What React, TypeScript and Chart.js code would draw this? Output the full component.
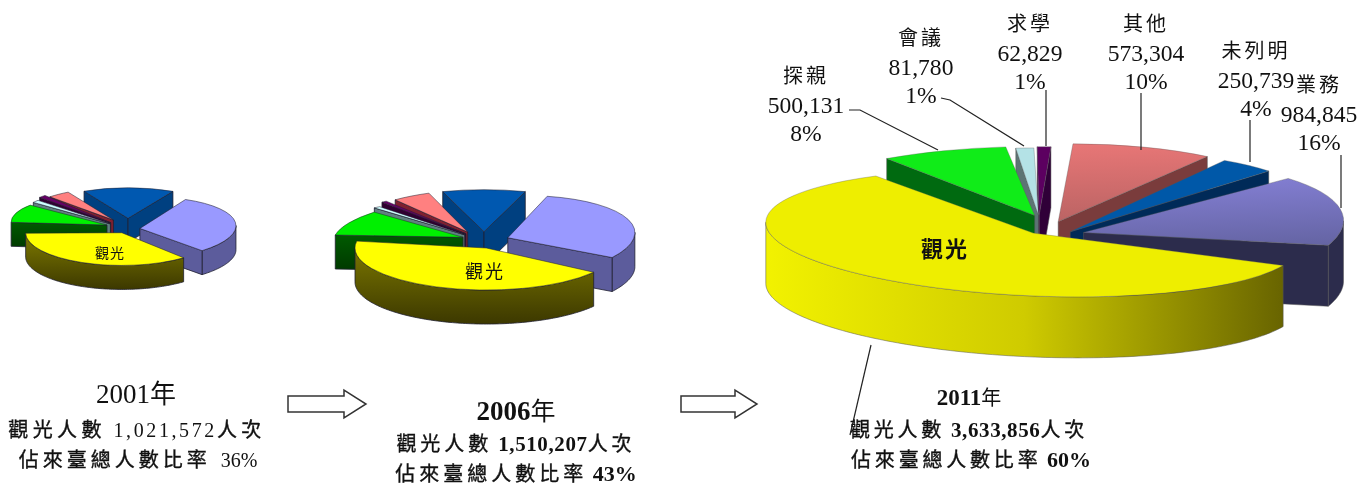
import React, { useEffect, useRef } from "react";
import { Chart, registerables } from "chart.js";

Chart.register(...registerables);

const purposes = ["其他", "未列明", "業務", "觀光", "探親", "會議", "求學"];
const values2001 = [4, 15.5, 31, 36, 10.5, 1.5, 1.5];
const values2006 = [5, 10, 29.7, 43, 10.5, 1, 0.8];
const values2011 = [573304, 250739, 984845, 3633856, 500131, 81780, 62829];
const shares2011 = ["10%", "4%", "16%", "60%", "8%", "1%", "1%"];

const topColors = ["#ff8080", "#0058b0", "#9999ff", "#ffff00", "#00f000", "#ccffff", "#660066"];
const wallColors: any[] = ["#802030", "#004080", "#5c5c9c", ["#807c00", "#3c3800"], ["#007000", "#003800"], "#608080", "#300030"];
const topColors2011: any[] = [["#ec7878", "#a85c5c"], "#0058a8", ["#8e88e4", "#60609c"], "#eeee00", "#10ec18", "#b4e2e6", "#5c0060"];
const wallColors2011: any[] = ["#7a3c3c", "#002a58", "#2c2c4c", ["#f2f200", "#cfcb00", "#686400"], "#006a10", "#5c7474", "#300038"];

const look2001 = [
  { o: 8, dx: -4, lift: -7, s: 0.98, k: 0.34, t: -0.02 },
  { o: 9, dx: 6, lift: -8, s: 1.02, k: 0.32, t: 0 },
  { o: 18, dx: 0, lift: 0, s: 1.03, k: 0.327, t: -0.028 },
  { o: 10, dx: 4, lift: 1, s: 1.02, k: 0.34, t: 0 },
  { o: 10, dx: -5.5, lift: -3, s: 1, k: 0.307, t: 0.03 },
  { o: 6, dx: -7, lift: -4, s: 1, k: 0.36, t: 0 },
  { o: 6, dx: -7, lift: -5, s: 1, k: 0.38, t: 0 },
];
const look2006 = [
  { o: 5, dx: -15, lift: -4.6, s: 0.93, k: 0.338, t: -0.025 },
  { o: 17, dx: -1, lift: -1, s: 1, k: 0.307, t: 0 },
  { o: 23, dx: 1, lift: 2, s: 0.97, k: 0.33, t: -0.04 },
  { o: 7, dx: 4, lift: 8, s: 0.98, k: 0.32, t: 0 },
  { o: 25, dx: 0, lift: 3, s: 0.93, k: 0.3, t: -0.037 },
  { o: 5, dx: -17, lift: -2, s: 1, k: 0.27, t: 0 },
  { o: 5, dx: -16, lift: -3, s: 1, k: 0.3, t: 0 },
];
const look2011 = [
  { o: 24, dx: 0, lift: 3, s: 1, k: 0.31, t: -0.018 },
  { o: 16, dx: 9, lift: 10, s: 1.01, k: 0.307, t: -0.06 },
  { o: 35, dx: -1, lift: 9, s: 1.06, k: 0.277, t: -0.047 },
  { o: 27.5, dx: 0, lift: 2, s: 1, k: 0.235, t: 0.04 },
  { o: 44, dx: 0, lift: 2, s: 1, k: 0.263, t: 0 },
  { o: 10, dx: -11, lift: -7, s: 1, k: 0.27, t: 0 },
  { o: 8, dx: -11, lift: -8, s: 1, k: 0.275, t: 0 },
];

const pies = [
  { id: "2001", values: values2001, rotation: -42, radius: 92, tx: 122, ty: 229, k: 0.3, depth: 24, look: look2001,
    tops: topColors, walls: wallColors, wallDir: "v", edge: "#202030", edgeW: 0.8 },
  { id: "2006", values: values2006, rotation: -36, radius: 130, tx: 485, ty: 238, k: 0.31, depth: 34, look: look2006,
    tops: topColors, walls: wallColors, wallDir: "v", edge: "#202030", edgeW: 0.8 },
  { id: "2011", values: values2011, rotation: 3, radius: 240, tx: 1050, ty: 225, k: 0.28, depth: 61, look: look2011,
    tops: topColors2011, walls: wallColors2011, wallDir: "h", edge: "#555555", edgeW: 0.5 },
];

function paint(ctx: any, c: any, x0: number, y0: number, x1: number, y1: number) {
  if (!Array.isArray(c)) return c;
  const g = ctx.createLinearGradient(x0, y0, x1, y1);
  g.addColorStop(0, c[0]);
  if (c.length > 2) g.addColorStop(0.5, c[1]);
  g.addColorStop(1, c[c.length - 1]);
  return g;
}

function piePlugin(cfg: any) {
  return {
    id: "pie3d",
    beforeDatasetsDraw(chart: any) {
      const ctx = chart.ctx;
      const arcs: any[] = chart.getDatasetMeta(0).data;
      const cx = arcs[0].x;
      const cy = arcs[0].y;
      const order = arcs.map((_, i) => i).sort((a, b) => {
        const m = (e: any) => Math.sin((e.startAngle + e.endAngle) / 2);
        return m(arcs[a]) - m(arcs[b]);
      });
      for (const i of order) {
        const el = arcs[i];
        const lk = cfg.look[i];
        const off = (el.options.offset || 0) / 4;
        const mid = (el.startAngle + el.endAngle) / 2;
        const ox = cx + Math.cos(mid) * off;
        const oy = cy + Math.sin(mid) * off;
        const Ax = cfg.tx + (ox - cx) + lk.dx;
        const Ay = cfg.ty + (oy - cy) * cfg.k + lk.lift;
        const P = (x: number, y: number) => ({
          x: Ax + lk.s * (x - ox),
          y: Ay + lk.s * (lk.k * (y - oy) + lk.t * (x - ox)),
        });
        const alpha = el.endAngle - el.startAngle;
        const fix = 1 - Math.sin(Math.min(Math.PI, alpha));
        const rOff = off * fix;
        const r = el.outerRadius + rOff;
        const shrink = rOff / Math.PI / r / 2;
        const a0 = el.startAngle + shrink;
        const a1 = el.endAngle - shrink;
        const apex = P(ox, oy);
        const rim: any[] = [];
        const n = Math.max(4, Math.ceil((a1 - a0) / 0.02));
        for (let s = 0; s <= n; s++) {
          const a = a0 + ((a1 - a0) * s) / n;
          rim.push(P(ox + r * Math.cos(a), oy + r * Math.sin(a)));
        }
        const xs = rim.map((p) => p.x).concat(apex.x);
        const ys = rim.map((p) => p.y).concat(apex.y);
        const wall = cfg.wallDir === "h"
          ? paint(ctx, cfg.walls[i], Math.min(...xs), 0, Math.max(...xs), 0)
          : paint(ctx, cfg.walls[i], 0, Math.min(...ys), 0, Math.max(...ys) + cfg.depth);
        const d = cfg.depth;
        // runs of wall faces that look towards the viewer
        const runs: any[][] = [];
        const first = rim[0];
        const last = rim[rim.length - 1];
        if (first.x - apex.x < 0) runs.push([apex, first]);
        let cur: any[] = [];
        for (let j = 0; j < rim.length - 1; j++) {
          if (rim[j + 1].x - rim[j].x < 0) {
            if (!cur.length) cur.push(rim[j]);
            cur.push(rim[j + 1]);
          } else if (cur.length) {
            runs.push(cur);
            cur = [];
          }
        }
        if (cur.length) runs.push(cur);
        if (apex.x - last.x < 0) runs.push([last, apex]);
        ctx.save();
        ctx.fillStyle = wall;
        ctx.strokeStyle = cfg.edge;
        ctx.lineWidth = cfg.edgeW;
        for (const run of runs) {
          ctx.beginPath();
          run.forEach((p: any, q: number) => (q ? ctx.lineTo(p.x, p.y) : ctx.moveTo(p.x, p.y)));
          for (let q = run.length - 1; q >= 0; q--) ctx.lineTo(run[q].x, run[q].y + d);
          ctx.closePath();
          ctx.fill();
          ctx.stroke();
        }
        ctx.restore();

        ctx.save();
        ctx.translate(Ax, Ay);
        ctx.transform(lk.s, lk.s * lk.t, 0, lk.s * lk.k, 0, 0);
        ctx.translate(-ox, -oy);
        const original = el.options.backgroundColor;
        el.options.backgroundColor = paint(ctx, cfg.tops[i], 0, oy - r, 0, oy + r * 0.5);
        el.draw(ctx);
        el.options.backgroundColor = original;
        ctx.restore();
      }
      return false;
    },
  };
}

function Pie({ cfg }: { cfg: any }) {
  const ref = useRef<HTMLCanvasElement | null>(null);
  useEffect(() => {
    const chart = new Chart(ref.current as HTMLCanvasElement, {
      type: "pie",
      data: {
        labels: purposes,
        datasets: [{
          data: cfg.values,
          backgroundColor: topColors,
          borderColor: cfg.edge,
          borderWidth: cfg.edgeW,
          offset: cfg.look.map((l: any) => l.o * 4),
        }],
      },
      options: {
        animation: false,
        responsive: false,
        devicePixelRatio: 1,
        rotation: cfg.rotation,
        radius: cfg.radius,
        layout: { padding: 0 },
        plugins: { legend: { display: false }, tooltip: { enabled: false } },
      },
      plugins: [piePlugin(cfg)],
    } as any);
    return () => chart.destroy();
  }, [cfg]);
  return <canvas ref={ref} width={1371} height={487} style={{ position: "absolute", left: 0, top: 0, width: 1371, height: 487 }} />;
}

const FONT = "'Liberation Serif','Noto Sans CJK TC',serif";

// CJK runs and Latin runs carry their own size, weight and tracking
function T({ x, y, size, latin, bold, cjkBold, heavy, spacing, latinSpacing, children }: any) {
  const text = String(children);
  const parts = text.match(/[\u3000-\u9fff]+|[^\u3000-\u9fff]+/g) || [];
  return (
    <div style={{
      position: "absolute", left: x - 200, top: y - 20, width: 400, height: 40, lineHeight: "40px",
      textAlign: "center", fontFamily: FONT, color: "#111", whiteSpace: "pre",
    }}>
      {parts.map((p: string, i: number) => {
        const isCjk = /[\u3000-\u9fff]/.test(p);
        return (
          <span key={i} style={{
            fontSize: isCjk ? size : latin || size,
            fontWeight: (isCjk ? cjkBold : bold) ? 700 : 400,
            letterSpacing: isCjk ? spacing || 0 : latinSpacing || 0,
            WebkitTextStroke: isCjk && heavy ? "0.35px #111" : undefined,
          }}>{p}</span>
        );
      })}
    </div>
  );
}

const fmt = (n: number) => n.toLocaleString("en-US");

const labels2011 = [
  { i: 5, x: 921, y: 38 },
  { i: 6, x: 1030, y: 24 },
  { i: 0, x: 1146, y: 24 },
  { i: 1, x: 1256, y: 51 },
  { i: 2, x: 1319, y: 85 },
  { i: 4, x: 806, y: 76 },
];

function arrowPts(x0: number, x1: number, x2: number, y: number) {
  return `${x0},${y - 8} ${x1},${y - 8} ${x1},${y - 14} ${x2},${y} ${x1},${y + 14} ${x1},${y + 8} ${x0},${y + 8}`;
}

export default function App() {
  return (
    <div style={{ position: "absolute", left: 0, top: 0, width: 1371, height: 487, overflow: "hidden", background: "#fff" }}>
      {pies.map((p) => <Pie key={p.id} cfg={p} />)}
      <svg width={1371} height={487} style={{ position: "absolute", left: 0, top: 0 }}>
        <g fill="none" stroke="#222" strokeWidth={1.2}>
          <polyline points="849,110 860,110 938,150" />
          <polyline points="941,98 950,100 1024,146" />
          <polyline points="1046,90 1046,146" />
          <polyline points="1141,93 1141,150" />
          <polyline points="1250,120 1250,162" />
          <polyline points="1341,155 1341,208" />
          <polyline points="871,345 850,435" />
        </g>
        <g fill="#fff" stroke="#333" strokeWidth={1.5}>
          <polygon points={arrowPts(288, 344, 366, 404)} />
          <polygon points={arrowPts(681, 735, 757, 404)} />
        </g>
      </svg>
      {labels2011.map((l) => (
        <React.Fragment key={l.i}>
          <T x={l.x} y={l.y} size={20} spacing={3}>{purposes[l.i]}</T>
          <T x={l.x} y={l.y + 29} size={23.6}>{fmt(values2011[l.i])}</T>
          <T x={l.x} y={l.y + 57} size={23.6}>{shares2011[l.i]}</T>
        </React.Fragment>
      ))}
      <T x={110} y={253} size={14} spacing={1}>{purposes[3]}</T>
      <T x={485} y={272} size={18} spacing={2}>{purposes[3]}</T>
      <T x={945} y={250} size={22} spacing={2} cjkBold>{purposes[3]}</T>

      <T x={136} y={394} size={26} latin={27}>2001年</T>
      <T x={137} y={430} size={20} latin={20} spacing={4.4} latinSpacing={2.6} heavy>{"觀光人數 1,021,572人次"}</T>
      <T x={138} y={460} size={20} latin={20} spacing={4} heavy>佔來臺總人數比率  36%</T>

      <T x={516} y={411} size={25} latin={27} bold>2006年</T>
      <T x={516} y={444} size={20} latin={21} spacing={4} latinSpacing={0.6} bold heavy>觀光人數 1,510,207人次</T>
      <T x={516} y={474} size={20} latin={22} spacing={4} bold heavy>佔來臺總人數比率 43%</T>

      <T x={969} y={398} size={20} latin={23} bold>2011年</T>
      <T x={969} y={430} size={20} latin={21} spacing={3.8} latinSpacing={0.6} bold heavy>觀光人數 3,633,856人次</T>
      <T x={971} y={460} size={20} latin={22} spacing={3.8} bold heavy>佔來臺總人數比率 60%</T>
    </div>
  );
}
